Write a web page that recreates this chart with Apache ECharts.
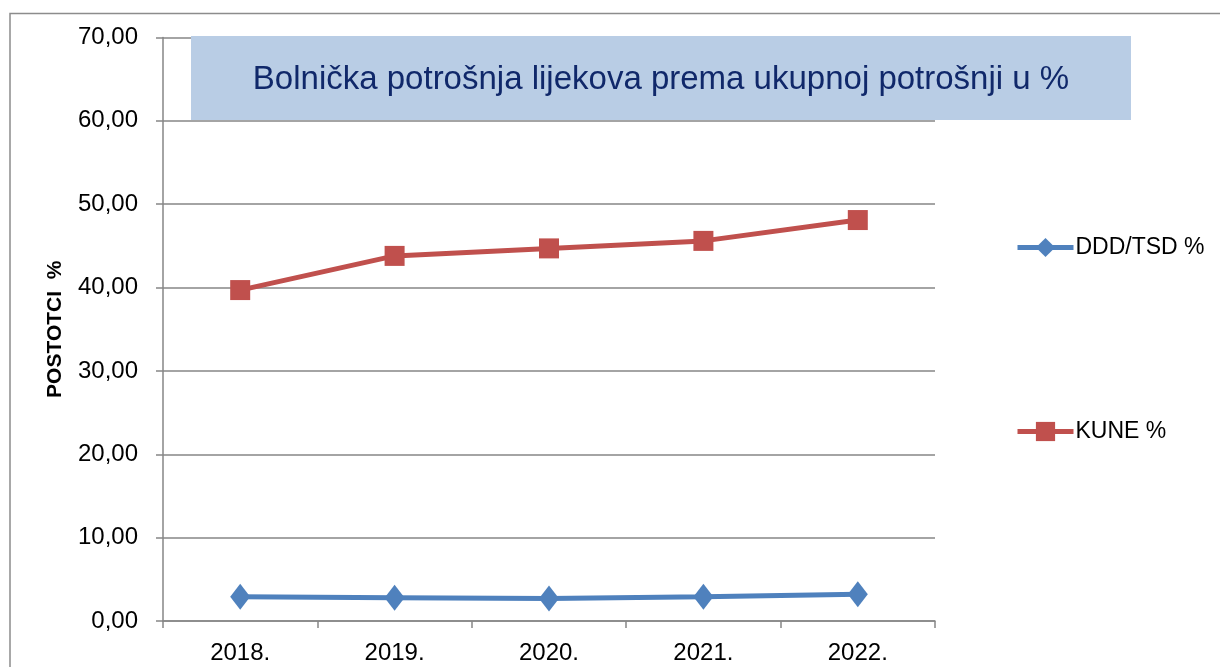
<!DOCTYPE html>
<html>
<head>
<meta charset="utf-8">
<script src="https://cdn.jsdelivr.net/npm/echarts@6/dist/echarts.min.js"></script>
<style>
  html, body { margin: 0; padding: 0; background: #fff; }
  #chart { width: 1220px; height: 667px; }
</style>
</head>
<body>
<div id="chart"></div>
<script>
const years = ['2018.', '2019.', '2020.', '2021.', '2022.']
const dddTsd = [2.9, 2.8, 2.7, 2.9, 3.2]
const kune = [39.7, 43.8, 44.7, 45.6, 48.1]
const titleText = 'Bolnička potrošnja lijekova prema ukupnoj potrošnji u %'

const font = 'Liberation Sans, sans-serif'
const chart = echarts.init(document.getElementById('chart'))

const option = {
  animation: false,
  graphic: [
    {
      // okvir oko cijelog grafikona (desni i donji rub izvan slike)
      type: 'rect',
      shape: { x: 10, y: 13.5, width: 1400, height: 800 },
      style: { fill: 'none', stroke: '#8c8c8c', lineWidth: 1.5 },
      z: 0
    },
    {
      type: 'rect',
      shape: { x: 191, y: 36, width: 940, height: 84 },
      style: { fill: '#b9cde5' },
      z: 10
    },
    {
      type: 'text',
      x: 661,
      y: 80,
      style: {
        text: titleText,
        fill: '#10286a',
        font: '33px ' + font,
        textAlign: 'center',
        textVerticalAlign: 'middle'
      },
      z: 11
    }
  ],
  legend: {
    orient: 'vertical',
    left: 1010,
    top: 231,
    itemGap: 161,
    itemWidth: 56,
    itemHeight: 24,
    lineStyle: { width: 5 },
    textStyle: { fontFamily: font, fontSize: 23, color: '#000', padding: [0, 0, 0, -3] },
    data: ['DDD/TSD %', 'KUNE %']
  },
  grid: {
    left: 163,
    right: 285,
    top: 37.5,
    bottom: 46
  },
  xAxis: {
    type: 'category',
    data: years,
    boundaryGap: true,
    axisLine: { lineStyle: { color: '#868686', width: 1.5 } },
    axisTick: { show: true, length: 7, inside: false, lineStyle: { color: '#868686', width: 1.5 } },
    axisLabel: { fontFamily: font, fontSize: 24, color: '#000', margin: 20 }
  },
  yAxis: {
    type: 'value',
    min: 0,
    max: 70,
    interval: 10,
    name: 'POSTOTCI  %',
    nameLocation: 'middle',
    nameGap: 97,
    nameRotate: 90,
    nameTextStyle: { fontFamily: font, fontSize: 21, fontWeight: 'bold', color: '#000' },
    axisLine: { show: true, lineStyle: { color: '#868686', width: 1.5 } },
    axisTick: { show: true, length: 7, lineStyle: { color: '#868686', width: 1.5 } },
    splitLine: { lineStyle: { color: '#868686', width: 1.5 } },
    axisLabel: {
      fontFamily: font,
      fontSize: 24,
      color: '#000',
      margin: 25,
      formatter: v => v.toFixed(2).replace('.', ',')
    }
  },
  series: [
    {
      name: 'DDD/TSD %',
      type: 'line',
      data: dddTsd,
      symbol: 'diamond',
      symbolSize: [20, 26],
      lineStyle: { color: '#4f81bd', width: 5 },
      itemStyle: { color: '#4f81bd' }
    },
    {
      name: 'KUNE %',
      type: 'line',
      data: kune,
      symbol: 'rect',
      symbolSize: 20,
      lineStyle: { color: '#c0504d', width: 5 },
      itemStyle: { color: '#c0504d' }
    }
  ]
}

chart.setOption(option)
</script>
</body>
</html>
